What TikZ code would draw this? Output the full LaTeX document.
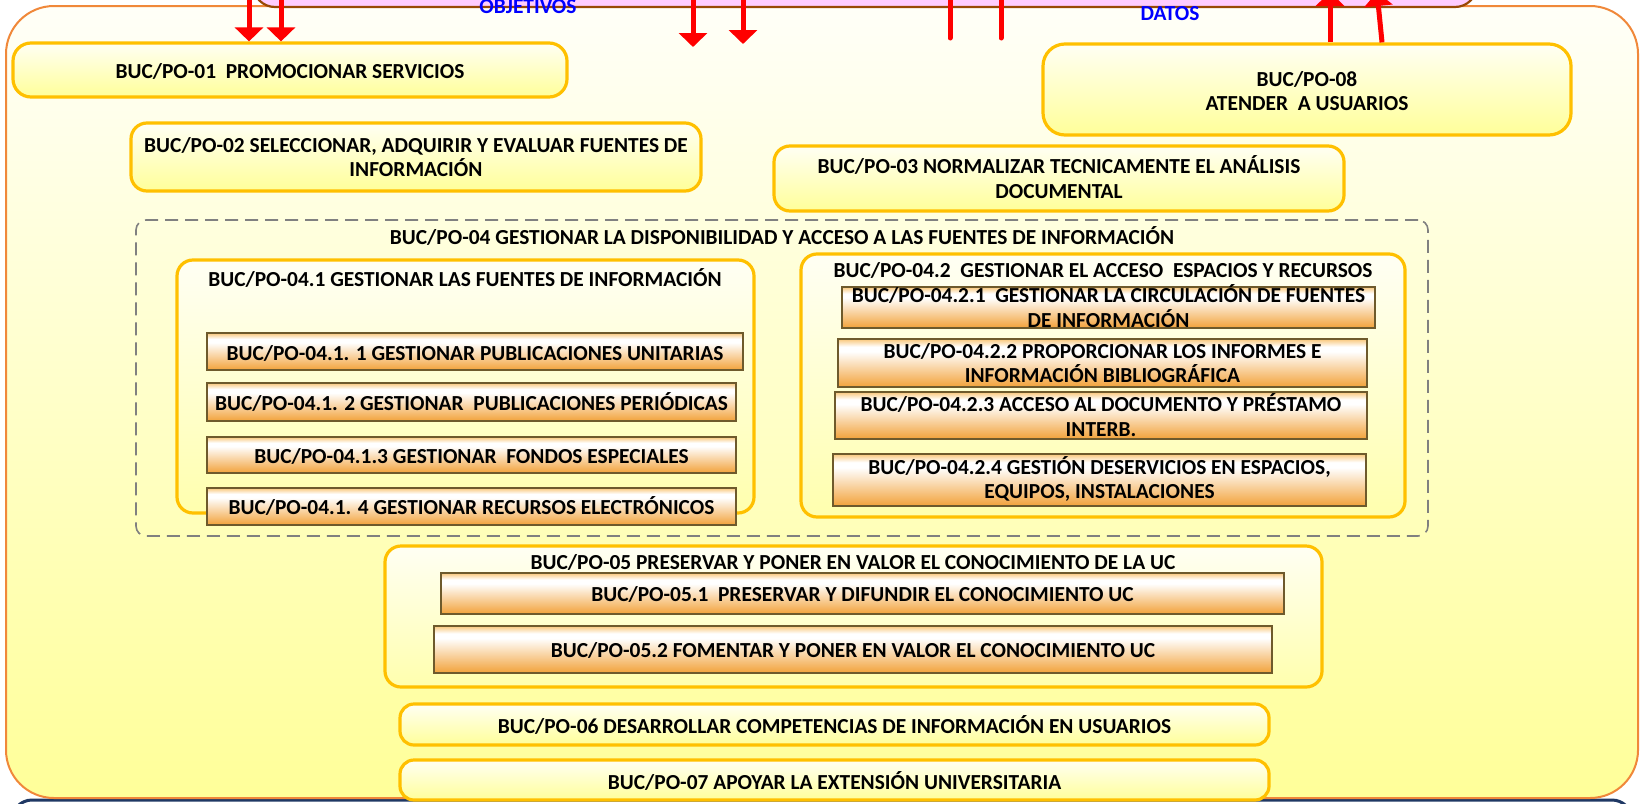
\documentclass[tikz,border=0pt]{standalone}
\usepackage{fontspec}
\setmainfont{Carlito}
\usetikzlibrary{arrows.meta,calc}
\definecolor{ygold}{HTML}{FFC000}
\definecolor{ytop}{HTML}{FFFFF4}
\definecolor{ybot}{HTML}{FFFF99}
\definecolor{otop}{HTML}{FFFFF8}
\definecolor{obot}{HTML}{FFFF99}
\definecolor{oborder}{HTML}{F0883A}
\definecolor{gtop}{HTML}{F9C77A}
\definecolor{gbot}{HTML}{F2A23A}
\definecolor{gborder}{HTML}{6E5A2C}
\definecolor{pinkfill}{HTML}{FFCCFF}
\definecolor{pinkborder}{HTML}{984806}
\definecolor{navyline}{HTML}{1F3864}
\definecolor{dashgray}{HTML}{808080}
\definecolor{bluetext}{HTML}{0000FF}
\definecolor{redline}{HTML}{FF0000}
\pgfdeclareverticalshading{goldbar}{100bp}{color(0bp)=(gbot); color(25bp)=(gbot); color(62bp)=(white); color(67bp)=(white); color(75bp)=(gtop); color(100bp)=(gtop)}
\begin{document}
\begin{tikzpicture}[x=0.5pt,y=-0.5pt,
  txt/.style={font=\fontsize{10.7}{12.4}\selectfont\bfseries, align=center, inner sep=0pt, text=black},
  bluetxt/.style={font=\fontsize{10.7}{12.4}\selectfont\bfseries, inner sep=0pt, text=bluetext},
  outerbox/.style={draw=oborder, line width=1pt, rounded corners=24pt, top color=otop, bottom color=obot, inner sep=0pt},
  ybox/.style={draw=ygold, line width=1.6pt, rounded corners=9pt, top color=ytop, bottom color=ybot, inner sep=0pt},
  ycont/.style={draw=ygold, line width=1.6pt, rounded corners=8pt, top color=ytop, bottom color=ybot!80!white, inner sep=0pt},
  gbar/.style={draw=gborder, line width=0.6pt, shading=goldbar, inner sep=0pt},
  dashbox/.style={draw=dashgray, line width=0.8pt, dash pattern=on 6.5pt off 3.5pt, rounded corners=5pt, inner sep=0pt},
  redarr/.style={draw=redline, line width=2.5pt, -{Triangle[width=14pt,length=7pt]}},
  redln/.style={draw=redline, line width=2.5pt, line cap=round}
]
\useasboundingbox (0,0) rectangle (1641,803);

% background frames
\node[draw=navyline, line width=1.5pt, fill=white, rounded corners=10pt, minimum width=810pt, minimum height=40pt] (navy) at (822,840) {};
\node[outerbox, minimum width=816pt, minimum height=396pt] (outer) at (822,402) {};
\node[draw=pinkborder, fill=pinkfill, line width=1.1pt, rounded corners=11pt, minimum width=612pt, minimum height=33.5pt] (pink) at (865,-26.5) {};

% top level boxes
\node[ybox, minimum width=277pt, minimum height=27pt] (po01) at (290,70) {};
\node[txt] (t01) at (290,71) {BUC/PO-01\ \ PROMOCIONAR SERVICIOS};

\node[ybox, rounded corners=8pt, minimum width=285pt, minimum height=34pt] (po02) at (416,157) {};
\node[txt] (t02) at (416,157) {BUC/PO-02 SELECCIONAR, ADQUIRIR Y EVALUAR FUENTES DE\\INFORMACIÓN};

\node[ybox, rounded corners=8pt, minimum width=285pt, minimum height=32.5pt] (po03) at (1059,178.5) {};
\node[txt] (t03) at (1059,177) {BUC/PO-03 NORMALIZAR TECNICAMENTE EL ANÁLISIS\\DOCUMENTAL};

\node[ybox, rounded corners=11pt, minimum width=264pt, minimum height=45.5pt] (po08) at (1307,89.5) {};
\node[txt] (t08) at (1307,91) {BUC/PO-08\\ATENDER\ \ A USUARIOS};

% PO-04
\node[dashbox, minimum width=646pt, minimum height=158pt] (po04) at (782,378) {};
\node[txt] (t04) at (782,236) {BUC/PO-04 GESTIONAR LA DISPONIBILIDAD Y ACCESO A LAS FUENTES DE INFORMACIÓN};

\node[ycont, minimum width=288.5pt, minimum height=126.5pt] (po041) at (465.5,386.5) {};
\node[txt] (t041) at (465,278) {BUC/PO-04.1 GESTIONAR LAS FUENTES DE INFORMACIÓN};

\node[ycont, minimum width=302pt, minimum height=131.5pt] (po042) at (1103,385.5) {};
\node[txt] (t042) at (1103,270) {BUC/PO-04.2\ \ GESTIONAR EL ACCESO\ \ ESPACIOS Y RECURSOS};

\node[gbar, minimum width=268pt, minimum height=18.5pt] (b0411) at (475,351.5) {};
\node[txt] (t0411) at (475,353) {BUC/PO-04.1. 1 GESTIONAR PUBLICACIONES UNITARIAS};
\node[gbar, minimum width=264.5pt, minimum height=19pt] (b0412) at (471.5,402) {};
\node[txt] (t0412) at (471.5,402) {BUC/PO-04.1. 2 GESTIONAR\ \ PUBLICACIONES PERIÓDICAS};
\node[gbar, minimum width=264.5pt, minimum height=18pt] (b0413) at (471.5,455) {};
\node[txt] (t0413) at (471.5,456) {BUC/PO-04.1.3 GESTIONAR\ \ FONDOS ESPECIALES};
\node[gbar, minimum width=264.5pt, minimum height=18.5pt] (b0414) at (471.5,506.5) {};
\node[txt] (t0414) at (471.5,506) {BUC/PO-04.1. 4 GESTIONAR RECURSOS ELECTRÓNICOS};

\node[gbar, minimum width=266.5pt, minimum height=20.5pt] (b0421) at (1108.5,307.5) {};
\node[txt] (t0421) at (1108.5,306) {BUC/PO-04.2.1\ \ GESTIONAR LA CIRCULACIÓN DE FUENTES\\DE INFORMACIÓN};
\node[gbar, minimum width=264.5pt, minimum height=24pt] (b0422) at (1102.5,363) {};
\node[txt] (t0422) at (1102.5,363) {BUC/PO-04.2.2 PROPORCIONAR LOS INFORMES E\\INFORMACIÓN BIBLIOGRÁFICA};
\node[gbar, minimum width=266pt, minimum height=23.5pt] (b0423) at (1101,415.5) {};
\node[txt] (t0423) at (1101,415) {BUC/PO-04.2.3 ACCESO AL DOCUMENTO Y PRÉSTAMO\\INTERB.};
\node[gbar, minimum width=266.5pt, minimum height=26pt] (b0424) at (1099.5,480) {};
\node[txt] (t0424) at (1099.5,479) {BUC/PO-04.2.4 GESTIÓN DESERVICIOS EN ESPACIOS,\\EQUIPOS, INSTALACIONES};

% PO-05
\node[ycont, minimum width=468.5pt, minimum height=70.5pt] (po05) at (853.5,616.5) {};
\node[gbar, minimum width=421.5pt, minimum height=20.5pt] (b051) at (862.5,593.5) {};
\node[txt] (t051) at (862.5,594.5) {BUC/PO-05.1\ \ PRESERVAR Y DIFUNDIR EL CONOCIMIENTO UC};
\node[gbar, minimum width=419pt, minimum height=23.5pt] (b052) at (853,649.5) {};
\node[txt] (t052) at (853,650.5) {BUC/PO-05.2 FOMENTAR Y PONER EN VALOR EL CONOCIMIENTO UC};
\node[txt] (t05) at (853,562.5) {BUC/PO-05 PRESERVAR Y PONER EN VALOR EL CONOCIMIENTO DE LA UC};

% PO-06, PO-07
\node[ybox, rounded corners=7pt, minimum width=434.5pt, minimum height=20.5pt] (po06) at (834.5,724.5) {};
\node[txt] (t06) at (834.5,725) {BUC/PO-06 DESARROLLAR COMPETENCIAS DE INFORMACIÓN EN USUARIOS};
\node[ybox, rounded corners=7pt, minimum width=434.5pt, minimum height=20pt] (po07) at (834.5,780) {};
\node[txt] (t07) at (834.5,781) {BUC/PO-07 APOYAR LA EXTENSIÓN UNIVERSITARIA};

% connectors
\coordinate (x1) at (249,0);
\coordinate (x2) at (281,0);
\coordinate (d3) at (693,47);
\coordinate (d4) at (743,44);
\coordinate (l1) at (950,38);
\coordinate (l2) at (1001,38);
\coordinate (u1b) at (1330,0);
\coordinate (u1t) at (1330,-8);
\coordinate (u2b) at (1382,0);
\coordinate (u2t) at (1377,-8);
\draw[redarr] (x1 |- pink.center) -- (x1 |- po01.north);
\draw[redarr] (x2 |- pink.center) -- (x2 |- po01.north);
\draw[redarr] (d3 |- pink.center) -- (d3);
\draw[redarr] (d4 |- pink.center) -- (d4);
\draw[redln] (l1 |- pink.center) -- (l1);
\draw[redln] (l2 |- pink.center) -- (l2);
\draw[redarr] (u1b |- po08.north) -- (u1t);
\draw[redarr] (u2b |- po08.north) -- (u2t);

% labels on the top frame
\node[bluetxt] (objetivos) at (528,7) {OBJETIVOS};
\node[bluetxt] (datos) at (1170,14) {DATOS};
\end{tikzpicture}
\end{document}
